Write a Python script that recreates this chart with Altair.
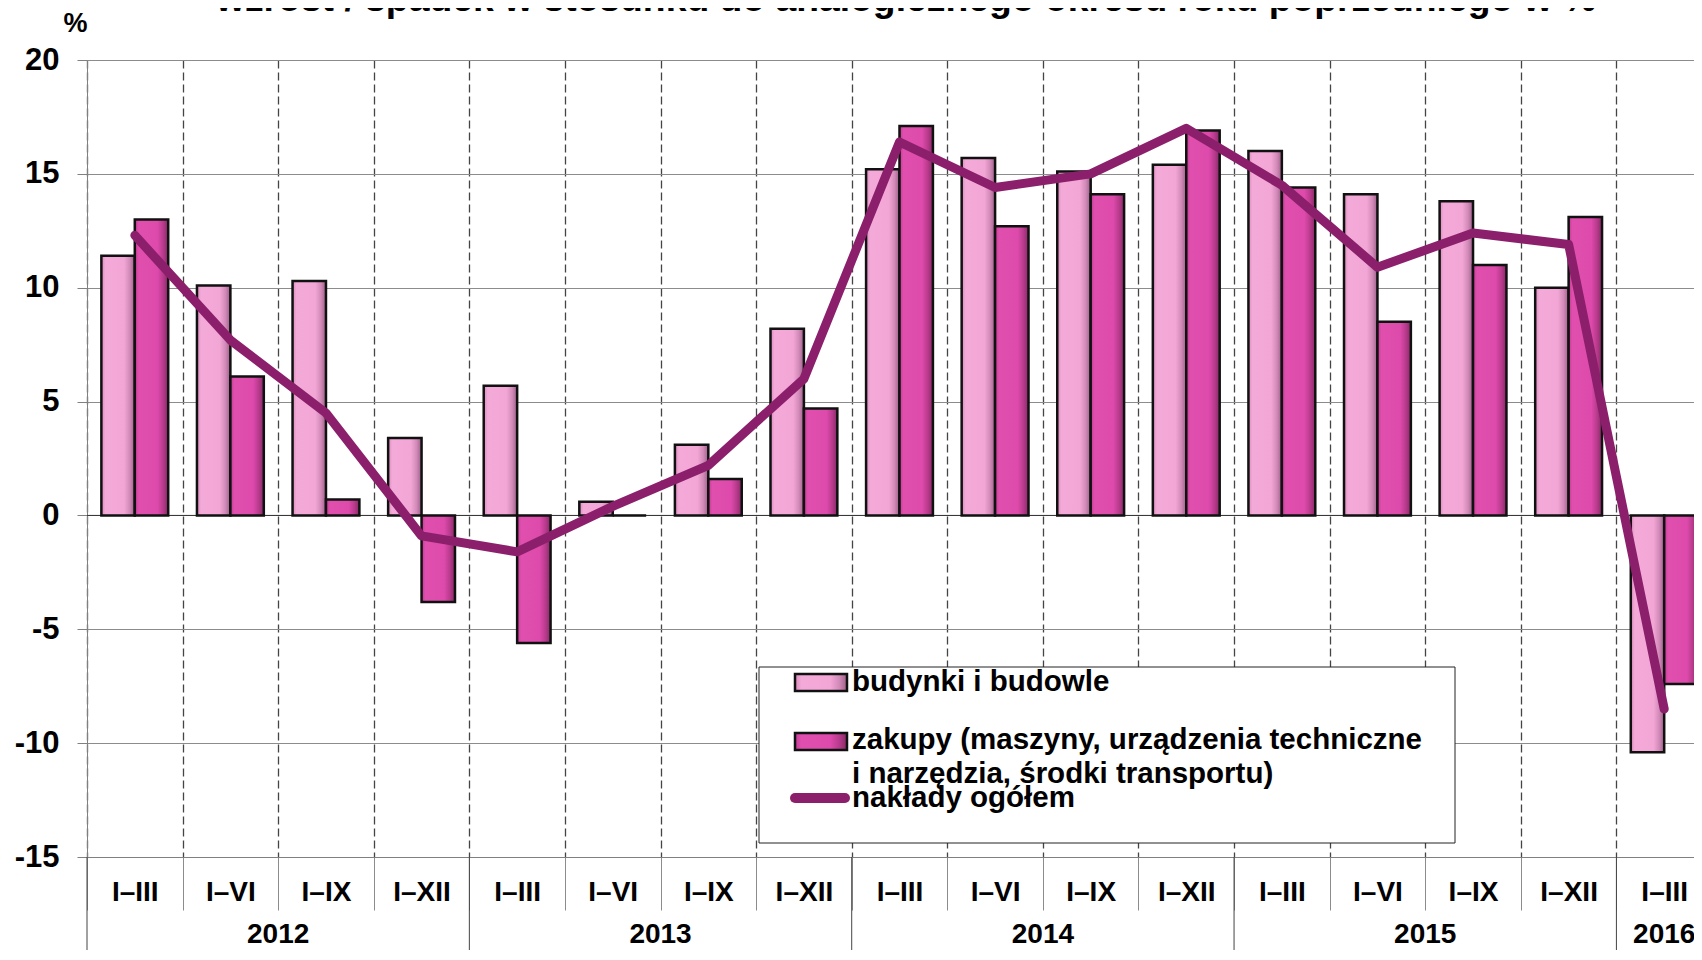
import altair as alt
import pandas as pd

# ---------------- data ----------------
years = [2012, 2013, 2014, 2015, 2016]
cat_years = [2012] * 4 + [2013] * 4 + [2014] * 4 + [2015] * 4 + [2016]
cat_periods = ["I–III", "I–VI", "I–IX", "I–XII"] * 4 + ["I–III"]
budynki = [11.4, 10.1, 10.3, 3.4, 5.7, 0.6, 3.1, 8.2, 15.2, 15.7, 15.1, 15.4, 16.0, 14.1, 13.8, 10.0, -10.4]
zakupy = [13.0, 6.1, 0.7, -3.8, -5.6, 0.0, 1.6, 4.7, 17.1, 12.7, 14.1, 16.9, 14.4, 8.5, 11.0, 13.1, -7.4]
ogolem = [12.3, 7.7, 4.5, -0.9, -1.6, 0.4, 2.2, 6.0, 16.4, 14.4, 15.0, 17.0, 14.5, 10.9, 12.4, 11.9, -8.5]
series_names = ["budynki", "zakupy"]
legend_labels = [
    "budynki i budowle",
    "zakupy (maszyny, urządzenia techniczne\ni narzędzia, środki transportu)",
    "nakłady ogółem",
]
title_text = "wzrost / spadek w stosunku do analogicznego okresu roku poprzedniego w %"
y_ticks = [-15, -10, -5, 0, 5, 10, 15, 20]

cats = [f"{y}|{p}" for y, p in zip(cat_years, cat_periods)]
wide = pd.DataFrame({"cat": cats, "budynki": budynki, "zakupy": zakupy, "ogolem": ogolem})
long_df = wide.melt(id_vars=["cat"], value_vars=series_names, var_name="series", value_name="value")

year_rows = []
for y in years:
    ycats = [c for c, cy in zip(cats, cat_years) if cy == y]
    mid = ycats[len(ycats) // 2]
    year_rows.append({"year": str(y), "first": ycats[0], "mid": mid, "full": len(ycats) > 1})
years_df = pd.DataFrame(year_rows)

# ---------------- style ----------------
FONT = "Liberation Sans, Arial, sans-serif"
W, H = 1607, 797
BAND_RANGE = 1625
LINE_COLOR = "#8B1F6B"

grad_b = alt.LinearGradient(
    gradient="linear", x1=0, x2=1, y1=0, y2=0,
    stops=[
        alt.GradientStop(color="#d68ab9", offset=0),
        alt.GradientStop(color="#f4aad9", offset=0.12),
        alt.GradientStop(color="#f2a6d6", offset=0.68),
        alt.GradientStop(color="#d28ab9", offset=0.85),
        alt.GradientStop(color="#9e5f88", offset=1),
    ],
)
grad_z = alt.LinearGradient(
    gradient="linear", x1=0, x2=1, y1=0, y2=0,
    stops=[
        alt.GradientStop(color="#c23c93", offset=0),
        alt.GradientStop(color="#e04fae", offset=0.12),
        alt.GradientStop(color="#dd4aab", offset=0.68),
        alt.GradientStop(color="#b83a8c", offset=0.85),
        alt.GradientStop(color="#862a66", offset=1),
    ],
)

xscale = alt.Scale(domain=cats, range=[0, BAND_RANGE], paddingInner=0, paddingOuter=0)
yscale = alt.Scale(domain=[-15, 20], nice=False, zero=False)

x_axis = alt.Axis(
    tickBand="extent", grid=True, gridDash=[8, 4], gridColor="#444444", gridWidth=1.3,
    ticks=True, tickSize=53, tickColor="#8c8c8c", tickWidth=1,
    domain=True, domainColor="#808080",
    labelExpr="split(datum.label, '|')[1]", labelFont=FONT, labelFontSize=28,
    labelFontWeight="bold", labelColor="black", labelPadding=-18, labelBaseline="middle",
    labelAngle=0, labelOverlap=False, title=None,
)
y_axis = alt.Axis(
    values=y_ticks, labelExpr="'' + datum.value", labelFont=FONT, labelFontSize=31,
    labelFontWeight="bold", labelColor="black", labelPadding=18, tickSize=10,
    tickColor="#808080", domainColor="#808080", grid=True, gridColor="#8c8c8c",
    title="%", titleAngle=0, titleX=-12, titleY=-37, titleAlign="center",
    titleBaseline="middle", titleFont=FONT, titleFontSize=27, titleFontWeight="bold",
    titleColor="black",
)


def X(field, **kw):
    return alt.X(field, scale=xscale, axis=x_axis, **kw)


def Y(field):
    return alt.Y(field, scale=yscale, axis=y_axis)


xoff = alt.XOffset("series:N", scale=alt.Scale(domain=series_names, paddingInner=0, paddingOuter=0.43))

zero_rule = alt.Chart(pd.DataFrame({"v": [0]})).mark_rule(color="#333333", strokeWidth=1).encode(
    y=Y("v:Q")
)

bars_b = alt.Chart(long_df).transform_filter("datum.series == 'budynki'").mark_bar(
    fill=grad_b, stroke="#111111", strokeWidth=2.5
).encode(x=X("cat:N"), xOffset=xoff, y=Y("value:Q"))
bars_z = alt.Chart(long_df).transform_filter("datum.series == 'zakupy'").mark_bar(
    fill=grad_z, stroke="#111111", strokeWidth=2.5
).encode(x=X("cat:N"), xOffset=xoff, y=Y("value:Q"))
line = alt.Chart(wide).mark_line(color=LINE_COLOR, strokeWidth=9, strokeCap="round", strokeJoin="round").encode(
    x=X("cat:N"), y=Y("ogolem:Q")
)

year_sep = alt.Chart(years_df).mark_rule(color="#444444", strokeWidth=1).encode(
    x=X("first:N", bandPosition=0),
    y=alt.value(H), y2=alt.value(H + 110),
)
year_txt_full = alt.Chart(years_df).transform_filter("datum.full").mark_text(
    font=FONT, fontSize=28, fontWeight="bold", color="black", baseline="middle", align="center"
).encode(x=X("mid:N", bandPosition=0), y=alt.value(H + 78), text="year:N")
year_txt_single = alt.Chart(years_df).transform_filter("!datum.full").mark_text(
    font=FONT, fontSize=28, fontWeight="bold", color="black", baseline="middle", align="center"
).encode(x=X("mid:N", bandPosition=0.5), y=alt.value(H + 78), text="year:N")

# ---------------- legend (drawn inside plot) ----------------
one = pd.DataFrame({"k": [0]})
leg_box = alt.Chart(one).mark_rect(fill="white", stroke="#222222", strokeWidth=1).encode(
    x=alt.value(672), x2=alt.value(1368), y=alt.value(607), y2=alt.value(783)
)
leg_sw1 = alt.Chart(one).mark_rect(fill=grad_b, stroke="#111111", strokeWidth=2.5).encode(
    x=alt.value(708), x2=alt.value(760), y=alt.value(614), y2=alt.value(631)
)
leg_sw2 = alt.Chart(one).mark_rect(fill=grad_z, stroke="#111111", strokeWidth=2.5).encode(
    x=alt.value(708), x2=alt.value(760), y=alt.value(673), y2=alt.value(690)
)
leg_sw3 = alt.Chart(one).mark_rule(color=LINE_COLOR, strokeWidth=10, strokeCap="round").encode(
    x=alt.value(708), x2=alt.value(758), y=alt.value(738)
)
leg_txt_style = dict(font=FONT, fontSize=29.5, fontWeight="bold", color="black", align="left",
                     baseline="alphabetic", lineBreak="\n", lineHeight=34)
leg_t1 = alt.Chart(pd.DataFrame({"t": [legend_labels[0]]})).mark_text(**leg_txt_style).encode(
    x=alt.value(765), y=alt.value(631), text="t:N")
leg_t2 = alt.Chart(pd.DataFrame({"t": [legend_labels[1]]})).mark_text(**leg_txt_style).encode(
    x=alt.value(765), y=alt.value(689), text="t:N")
leg_t3 = alt.Chart(pd.DataFrame({"t": [legend_labels[2]]})).mark_text(**leg_txt_style).encode(
    x=alt.value(765), y=alt.value(747), text="t:N")

title = alt.Chart(pd.DataFrame({"t": [title_text]})).mark_text(
    font=FONT, fontSize=37.3, fontWeight="bold", color="black", align="center", baseline="alphabetic"
).encode(x=alt.value(819), y=alt.value(-49), text="t:N")

chart = alt.layer(
    zero_rule, bars_b, bars_z, line, year_sep, year_txt_full, year_txt_single,
    leg_box, leg_sw1, leg_sw2, leg_sw3, leg_t1, leg_t2, leg_t3, title,
).properties(
    width=W, height=H,
    autosize=alt.AutoSizeParams(type="none"),
    padding={"left": 79, "top": 52, "right": 0, "bottom": 93},
).configure_view(stroke=None).configure(background="white")

chart.save("out.html", embed_options={"renderer": "svg", "actions": False})
